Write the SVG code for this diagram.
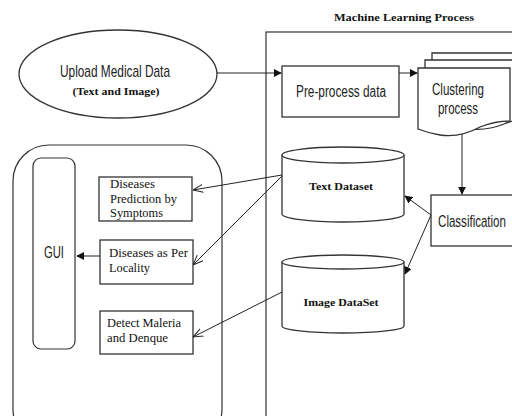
<svg xmlns="http://www.w3.org/2000/svg" width="512" height="416" viewBox="0 0 512 416">
<defs>
<style>
.s{fill:#fff;stroke:#333;stroke-width:1.3}
.n{fill:none;stroke:#333;stroke-width:1.2}
.l{fill:none;stroke:#222;stroke-width:1}
.nar{font-family:"Liberation Sans Narrow","Liberation Sans",sans-serif;fill:#222}
.ser{font-family:"Liberation Serif",serif;fill:#111;font-size:12px}
.bs{font-family:"Liberation Serif",serif;font-weight:bold;fill:#111;font-size:11px}
</style>
<marker id="fa" viewBox="0 0 10 10" refX="9" refY="5" markerWidth="8" markerHeight="8" orient="auto" markerUnits="userSpaceOnUse"><path d="M0,0 L10,5 L0,10 z" fill="#111"/></marker>
<marker id="oa" viewBox="0 0 10 10" refX="10" refY="5" markerWidth="10" markerHeight="10" orient="auto" markerUnits="userSpaceOnUse"><path d="M0,1 L10,5 L0,9" fill="none" stroke="#222" stroke-width="1"/></marker>
</defs>
<rect width="512" height="416" fill="#fff"/>

<g id="ml-process">
<rect x="266" y="32" width="260" height="400" class="n"/>
<text x="404" y="21" class="bs" text-anchor="middle" textLength="140" lengthAdjust="spacingAndGlyphs">Machine Learning Process</text>
</g>

<g id="upload">
<ellipse cx="118" cy="74" rx="99" ry="44" class="s"/>
<text x="115" y="77" class="nar" font-size="17" text-anchor="middle" textLength="110" lengthAdjust="spacingAndGlyphs">Upload Medical Data</text>
<text x="116" y="95" class="bs" font-size="12" text-anchor="middle" textLength="87" lengthAdjust="spacingAndGlyphs">(Text and Image)</text>
</g>

<g id="preprocess">
<rect x="282" y="66" width="117" height="51" class="s"/>
<text x="341" y="97" class="nar" font-size="16" text-anchor="middle" textLength="90" lengthAdjust="spacingAndGlyphs">Pre-process data</text>
</g>

<g id="clustering">
<path d="M432,53 H530 V112 Q520,114 510,118 Q490,126 470,122 Q450,118 432,116 Z" class="s"/>
<path d="M425,60 H524 V118 Q514,120 504,124 Q484,132 464,128 Q444,124 425,122 Z" class="s"/>
<path d="M418,68 H510 V121 Q495,121 480,127 Q460,138 440,135 Q428,133 418,129 Z" class="s"/>
<text x="458" y="95" class="nar" font-size="16" text-anchor="middle" textLength="52" lengthAdjust="spacingAndGlyphs">Clustering</text>
<text x="458" y="114" class="nar" font-size="16" text-anchor="middle" textLength="40" lengthAdjust="spacingAndGlyphs">process</text>
</g>

<g id="classification">
<rect x="431" y="195" width="100" height="51" class="s"/>
<text transform="translate(472,227) scale(0.72,1)" x="0" y="0" class="nar" font-size="16" text-anchor="middle">Classification</text>
</g>

<g id="text-dataset">
<path d="M282,155 V214 A61,8 0 0 0 404,214 V155" class="s"/>
<ellipse cx="343" cy="155" rx="61" ry="8" class="s"/>
<text x="341" y="190" class="bs" text-anchor="middle" textLength="64" lengthAdjust="spacingAndGlyphs">Text Dataset</text>
</g>

<g id="image-dataset">
<path d="M282,262 V326 A61,7 0 0 0 404,326 V262" class="s"/>
<ellipse cx="343" cy="262" rx="61" ry="7" class="s"/>
<text x="341" y="306" class="bs" text-anchor="middle" textLength="75" lengthAdjust="spacingAndGlyphs">Image DataSet</text>
</g>

<g id="gui-container">
<rect x="13" y="145" width="209" height="300" rx="36" class="n"/>
</g>

<g id="gui">
<rect x="33" y="158" width="42" height="191" rx="8" class="n"/>
<text x="54" y="258" class="nar" font-size="16" text-anchor="middle" textLength="20" lengthAdjust="spacingAndGlyphs">GUI</text>
</g>

<g id="box-symptoms">
<rect x="99" y="177" width="93" height="44" class="s"/>
<text x="110" y="188" class="ser" textLength="45" lengthAdjust="spacingAndGlyphs">Diseases</text>
<text x="110" y="203" class="ser" textLength="67" lengthAdjust="spacingAndGlyphs">Prediction by</text>
<text x="110" y="217" class="ser" textLength="53" lengthAdjust="spacingAndGlyphs">Symptoms</text>
</g>

<g id="box-locality">
<rect x="100" y="240" width="93" height="44" class="s"/>
<text x="109" y="257" class="ser" textLength="79" lengthAdjust="spacingAndGlyphs">Diseases as Per</text>
<text x="109" y="272" class="ser" textLength="41" lengthAdjust="spacingAndGlyphs">Locality</text>
</g>

<g id="box-maleria">
<rect x="100" y="311" width="93" height="43" class="s"/>
<text x="107" y="327" class="ser" textLength="74" lengthAdjust="spacingAndGlyphs">Detect Maleria</text>
<text x="107" y="342" class="ser" textLength="61" lengthAdjust="spacingAndGlyphs">and Denque</text>
</g>

<g id="connectors">
<line x1="217" y1="73" x2="281" y2="73" class="l" marker-end="url(#fa)"/>
<line x1="399" y1="73" x2="417" y2="73" class="l" marker-end="url(#fa)"/>
<line x1="462" y1="134" x2="462" y2="194" class="l" marker-end="url(#fa)"/>
<line x1="431" y1="215" x2="405" y2="196" class="l" marker-end="url(#fa)"/>
<line x1="431" y1="215" x2="405" y2="274" class="l" marker-end="url(#fa)"/>
<line x1="100" y1="256" x2="77" y2="256" class="l" stroke-width="1.5" marker-end="url(#fa)"/>
<line x1="282" y1="175" x2="193" y2="190" class="l" marker-end="url(#oa)"/>
<line x1="282" y1="176" x2="193" y2="265" class="l" marker-end="url(#oa)"/>
<line x1="282" y1="292" x2="193" y2="337" class="l" marker-end="url(#oa)"/>
</g>
</svg>
